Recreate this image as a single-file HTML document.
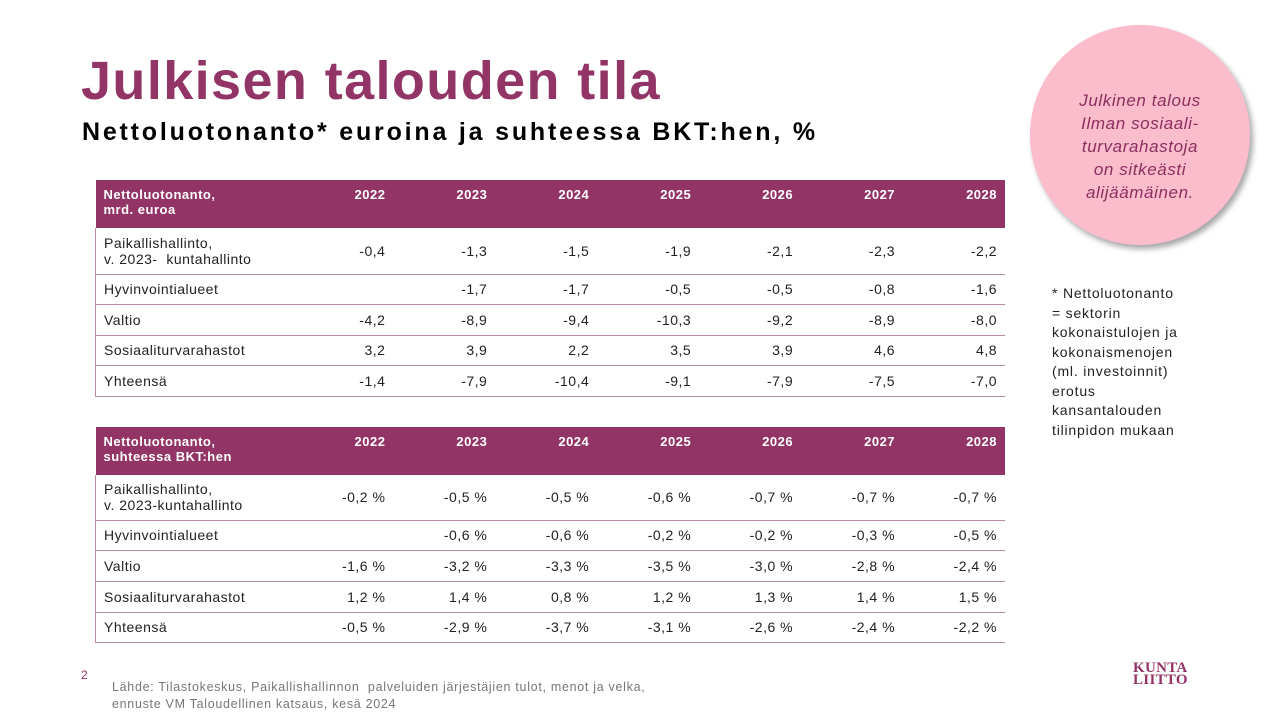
<!DOCTYPE html>
<html><head><meta charset="utf-8"><style>
body{margin:0;width:1280px;height:720px;background:#fff;position:relative;overflow:hidden;font-family:"Liberation Sans",sans-serif;}
.t{position:absolute;}
h1{position:absolute;left:81px;top:50px;margin:0;font-size:54px;font-weight:bold;color:#923465;letter-spacing:1.4px;}
h2{position:absolute;left:82px;top:118px;margin:0;font-size:25px;font-weight:bold;color:#000;letter-spacing:2.8px;}
table{position:absolute;left:95px;width:910px;border-collapse:collapse;table-layout:fixed;font-size:14px;color:#222;letter-spacing:0.5px}
td{padding:0 8px;border-bottom:1px solid #b88aa6;vertical-align:middle;text-align:right;white-space:nowrap;}
td:first-child{text-align:left;border-left:1px solid #b88aa6;}
tr.h td{background:#923465;color:#fff;font-weight:bold;font-size:13px;border:none;vertical-align:top;padding-top:7px;}
.circle{position:absolute;left:1030px;top:25px;width:220px;height:220px;border-radius:50%;background:#fbbccc;box-shadow:3px 4px 6px rgba(0,0,0,0.35);}
.circle div{position:absolute;left:0;right:0;top:64px;text-align:center;font-style:italic;color:#8c2f5f;font-size:17px;line-height:23px;letter-spacing:0.6px}
.note{position:absolute;left:1052px;top:284px;font-size:14px;line-height:19.5px;color:#222;letter-spacing:0.8px}
.src{position:absolute;left:112px;top:679px;font-size:12.5px;line-height:17px;color:#777;letter-spacing:0.7px}
</style></head><body>
<h1>Julkisen talouden tila</h1>
<h2>Nettoluotonanto* euroina ja suhteessa BKT:hen, %</h2>
<div class="circle"><div>Julkinen talous<br>Ilman sosiaali-<br>turvarahastoja<br>on sitkeästi<br>alijäämäinen.</div></div>
<div class="note">* Nettoluotonanto<br>= sektorin<br>kokonaistulojen ja<br>kokonaismenojen<br>(ml. investoinnit)<br>erotus<br>kansantalouden<br>tilinpidon mukaan</div>

<table style="top:180px">
<colgroup><col style="width:196px"><col><col><col><col><col><col><col></colgroup>
<tr class="h" style="height:48px"><td>Nettoluotonanto,<br>mrd. euroa</td><td>2022</td><td>2023</td><td>2024</td><td>2025</td><td>2026</td><td>2027</td><td>2028</td></tr>
<tr style="height:46px"><td>Paikallishallinto,<br>v. 2023-&nbsp; kuntahallinto</td><td>-0,4</td><td>-1,3</td><td>-1,5</td><td>-1,9</td><td>-2,1</td><td>-2,3</td><td>-2,2</td></tr>
<tr style="height:30px"><td>Hyvinvointialueet</td><td></td><td>-1,7</td><td>-1,7</td><td>-0,5</td><td>-0,5</td><td>-0,8</td><td>-1,6</td></tr>
<tr style="height:31px"><td>Valtio</td><td>-4,2</td><td>-8,9</td><td>-9,4</td><td>-10,3</td><td>-9,2</td><td>-8,9</td><td>-8,0</td></tr>
<tr style="height:30px"><td>Sosiaaliturvarahastot</td><td>3,2</td><td>3,9</td><td>2,2</td><td>3,5</td><td>3,9</td><td>4,6</td><td>4,8</td></tr>
<tr style="height:31px"><td>Yhteensä</td><td>-1,4</td><td>-7,9</td><td>-10,4</td><td>-9,1</td><td>-7,9</td><td>-7,5</td><td>-7,0</td></tr>
</table>

<table style="top:427px">
<colgroup><col style="width:196px"><col><col><col><col><col><col><col></colgroup>
<tr class="h" style="height:48px"><td>Nettoluotonanto,<br>suhteessa BKT:hen</td><td>2022</td><td>2023</td><td>2024</td><td>2025</td><td>2026</td><td>2027</td><td>2028</td></tr>
<tr style="height:45px"><td>Paikallishallinto,<br>v. 2023-kuntahallinto</td><td>-0,2 %</td><td>-0,5 %</td><td>-0,5 %</td><td>-0,6 %</td><td>-0,7 %</td><td>-0,7 %</td><td>-0,7 %</td></tr>
<tr style="height:30px"><td>Hyvinvointialueet</td><td></td><td>-0,6 %</td><td>-0,6 %</td><td>-0,2 %</td><td>-0,2 %</td><td>-0,3 %</td><td>-0,5 %</td></tr>
<tr style="height:31px"><td>Valtio</td><td>-1,6 %</td><td>-3,2 %</td><td>-3,3 %</td><td>-3,5 %</td><td>-3,0 %</td><td>-2,8 %</td><td>-2,4 %</td></tr>
<tr style="height:31px"><td>Sosiaaliturvarahastot</td><td>1,2 %</td><td>1,4 %</td><td>0,8 %</td><td>1,2 %</td><td>1,3 %</td><td>1,4 %</td><td>1,5 %</td></tr>
<tr style="height:30px"><td>Yhteensä</td><td>-0,5 %</td><td>-2,9 %</td><td>-3,7 %</td><td>-3,1 %</td><td>-2,6 %</td><td>-2,4 %</td><td>-2,2 %</td></tr>
</table>

<div class="t" style="left:81px;top:668px;font-size:12px;color:#923465">2</div>
<div class="src">Lähde: Tilastokeskus, Paikallishallinnon&nbsp; palveluiden järjestäjien tulot, menot ja velka,<br>ennuste VM Taloudellinen katsaus, kesä 2024</div>
<div class="t" style="left:1133px;top:662px;font-family:'Liberation Serif',serif;font-size:15px;line-height:12px;color:#923465;font-weight:bold;letter-spacing:0.3px">KUNTA<br>LIITTO</div>
</body></html>
